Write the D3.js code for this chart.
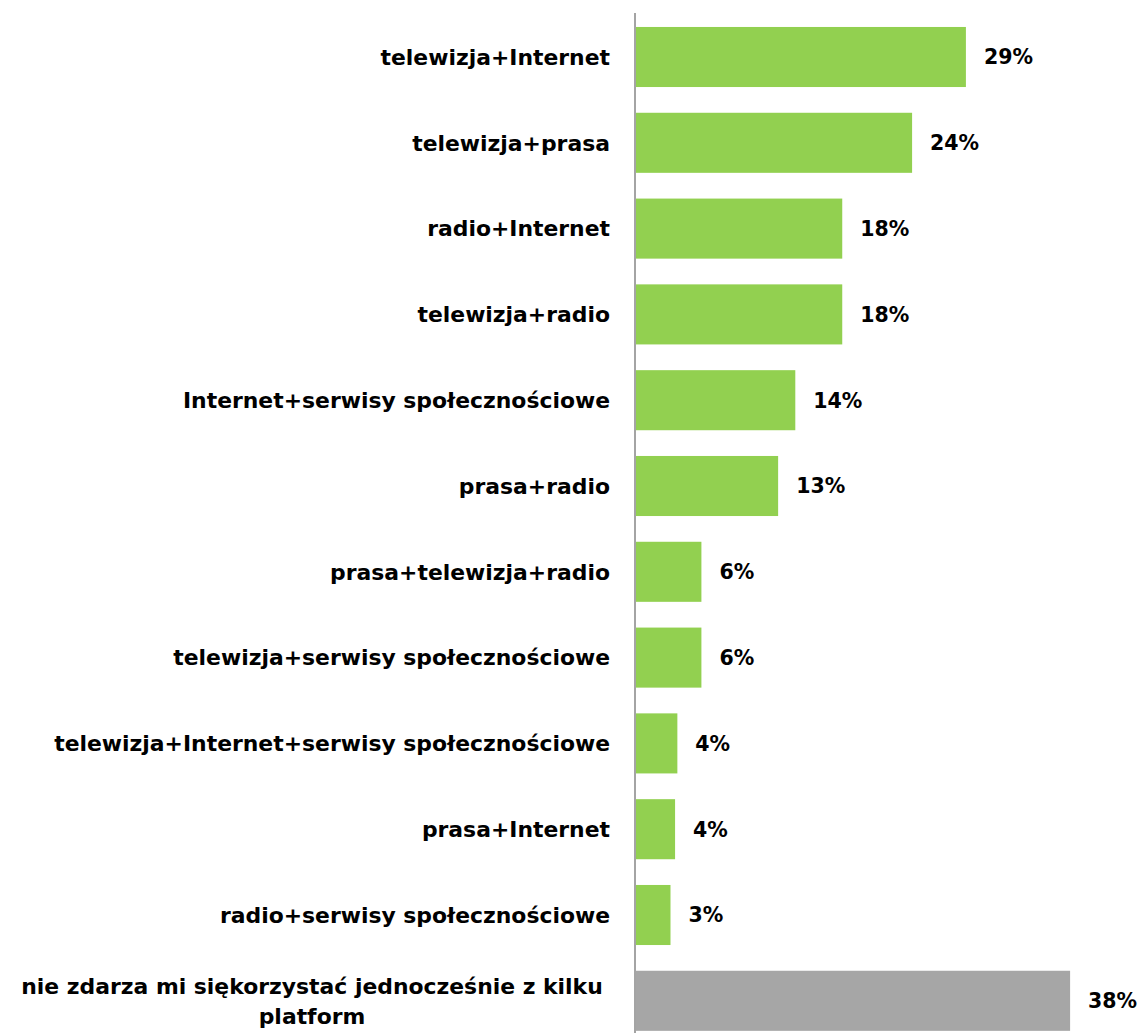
<!DOCTYPE html>
<html>
<head>
<meta charset="utf-8">
<script src="https://cdn.jsdelivr.net/npm/d3@7"></script>
<style>
  html, body { margin: 0; padding: 0; background: #fff; }
  svg { display: block; }
  text { font-family: "DejaVu Sans", Verdana, sans-serif; font-weight: bold; fill: #000; }
</style>
</head>
<body>
<svg id="chart" width="1139" height="1033"></svg>
<script>
const categories = [
  "telewizja+Internet",
  "telewizja+prasa",
  "radio+Internet",
  "telewizja+radio",
  "Internet+serwisy społecznościowe",
  "prasa+radio",
  "prasa+telewizja+radio",
  "telewizja+serwisy społecznościowe",
  "telewizja+Internet+serwisy społecznościowe",
  "prasa+Internet",
  "radio+serwisy społecznościowe",
  "nie zdarza mi siękorzystać jednocześnie z kilku platform"
];
const values = [28.9, 24.2, 18.1, 18.1, 14.0, 12.5, 5.8, 5.8, 3.7, 3.5, 3.1, 38.0];
const valueLabels = ["29%", "24%", "18%", "18%", "14%", "13%", "6%", "6%", "4%", "4%", "3%", "38%"];
const highlight = [false, false, false, false, false, false, false, false, false, false, false, true];

const svg = d3.select("#chart");
const x0 = 635;
const pxPerUnit = 11.45;
const x = d3.scaleLinear().domain([0, 38]).range([x0, x0 + 38 * pxPerUnit]);
const y = d3.scaleBand().domain(categories).range([14.1, 1043.7]).paddingInner(0.3).paddingOuter(0.15);

// bars
svg.selectAll("rect.bar").data(categories).enter().append("rect")
  .attr("class", "bar")
  .attr("x", x(0) + 1)
  .attr("y", d => y(d))
  .attr("width", (d, i) => x(values[i]) - x(0) - 1)
  .attr("height", y.bandwidth())
  .attr("fill", (d, i) => highlight[i] ? "#A6A6A6" : "#92D050");

// axis line
svg.append("line")
  .attr("x1", x0).attr("x2", x0)
  .attr("y1", 13).attr("y2", 1033)
  .attr("stroke", "#868686").attr("stroke-width", 1.5);

// value labels
svg.selectAll("text.val").data(categories).enter().append("text")
  .attr("class", "val")
  .attr("x", (d, i) => x(values[i]) + 18)
  .attr("y", d => y(d) + y.bandwidth() / 2)
  .attr("dy", "0.36em")
  .attr("font-size", 20.5)
  .text((d, i) => valueLabels[i]);

// category labels
const labelX = 610;
const labelSize = 21.9;
categories.forEach((c, i) => {
  const cy = y(c) + y.bandwidth() / 2;
  if (i === categories.length - 1) {
    const lines = ["nie zdarza mi siękorzystać jednocześnie z kilku", "platform"];
    const t = svg.append("text").attr("font-size", labelSize).attr("text-anchor", "middle");
    lines.forEach((ln, k) => {
      t.append("tspan").attr("x", 312).attr("y", cy + (k - 0.5) * 30).attr("dy", "0.36em").text(ln);
    });
  } else {
    svg.append("text")
      .attr("x", labelX)
      .attr("y", cy)
      .attr("dy", "0.36em")
      .attr("text-anchor", "end")
      .attr("font-size", labelSize)
      .text(c);
  }
});
</script>
</body>
</html>
